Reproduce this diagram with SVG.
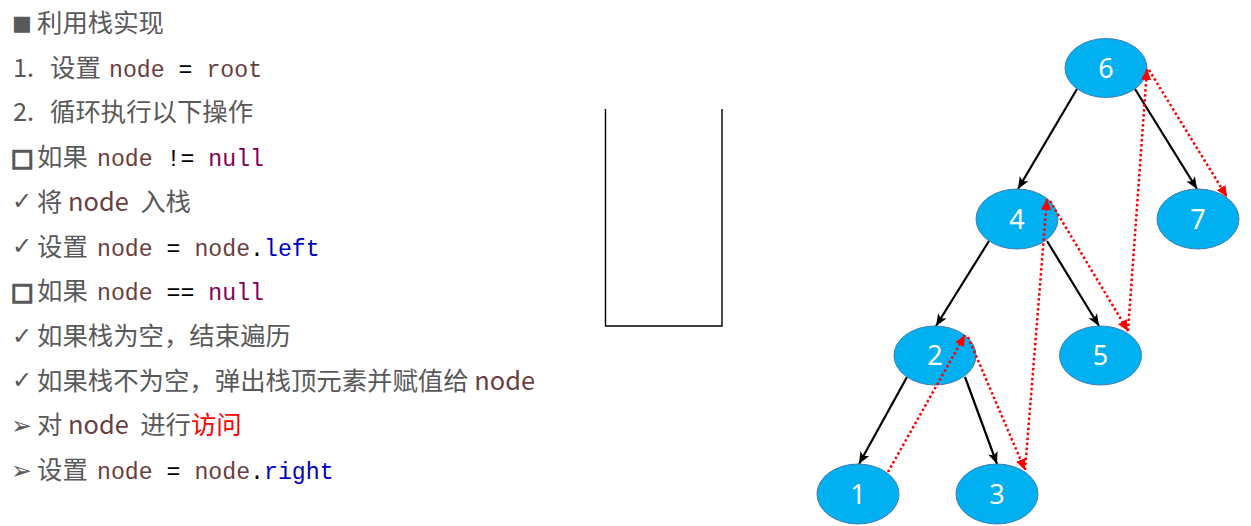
<svg xmlns="http://www.w3.org/2000/svg" width="1251" height="526" viewBox="0 0 1251 526">
<style>
.t{font-family:"Noto Sans CJK SC","Noto Sans",sans-serif;font-size:25.4px;fill:#595959}
.v{fill:#6a3e3e}
.m{font-family:"Liberation Mono","DejaVu Sans Mono",monospace;font-size:23.2px;fill:#000}
.kw{fill:#7f0055}
.f{fill:#0000c0}
.r{fill:#ff0000}
.b{font-family:"DejaVu Sans",sans-serif;fill:#595959}
.node ellipse{fill:#00b0f0;stroke:#3f7fb0;stroke-width:1}
.node text{font-family:"Noto Sans","Open Sans",sans-serif;font-size:27px;fill:#fff;text-anchor:middle}
.edge{stroke:#000;stroke-width:2.2;fill:none;marker-end:url(#ab)}
.trav{stroke:#ff0000;stroke-width:2.5;fill:none;stroke-dasharray:2.5 2.5;marker-end:url(#ar)}
</style>
<defs>
<marker id="ab" markerUnits="userSpaceOnUse" markerWidth="12" markerHeight="12" viewBox="0 0 12 12" refX="12" refY="6" orient="auto"><path d="M0,1 L12,6 L0,11 L3,6 Z" fill="#000"/></marker>
<marker id="ar" markerUnits="userSpaceOnUse" markerWidth="11" markerHeight="11" viewBox="0 0 11 11" refX="11" refY="5.5" orient="auto"><path d="M0,0.5 L11,5.5 L0,10.5 Z" fill="#ff0000"/></marker>
</defs>
<rect width="1251" height="526" fill="#fff"/>

<g id="text">
<text class="b" x="12" y="30" font-size="21">■</text>
<text class="t" x="37" y="32">利用栈实现</text>

<text class="t" x="13" y="77">1.</text>
<text class="t" x="50" y="77">设置</text>
<text class="m" x="109" y="76.7" xml:space="preserve"><tspan class="v">node</tspan> = <tspan class="v">root</tspan></text>

<text class="t" x="13" y="121.4">2.</text>
<text class="t" x="50" y="121.4">循环执行以下操作</text>

<text class="b" x="11" y="166" font-size="24" stroke="#595959" stroke-width="1.6">□</text>
<text class="t" x="37" y="166">如果</text>
<text class="m" x="97" y="166" xml:space="preserve"><tspan class="v">node</tspan> != <tspan class="kw">null</tspan></text>

<text class="b" x="12" y="209" font-size="24">✓</text>
<text class="t" x="37" y="210.8" xml:space="preserve">将 <tspan class="v">node</tspan>  入栈</text>

<text class="b" x="12" y="254" font-size="24">✓</text>
<text class="t" x="37" y="255.5">设置</text>
<text class="m" x="97" y="255.5" xml:space="preserve"><tspan class="v">node</tspan> = <tspan class="v">node</tspan>.<tspan class="f">left</tspan></text>

<text class="b" x="11" y="300.2" font-size="24" stroke="#595959" stroke-width="1.6">□</text>
<text class="t" x="37" y="300.2">如果</text>
<text class="m" x="97" y="300.2" xml:space="preserve"><tspan class="v">node</tspan> == <tspan class="kw">null</tspan></text>

<text class="b" x="12" y="343.5" font-size="24">✓</text>
<text class="t" x="37" y="345">如果栈为空，结束遍历</text>

<text class="b" x="12" y="388" font-size="24">✓</text>
<text class="t" x="37" y="389.6">如果栈不为空，弹出栈顶元素并赋值给 <tspan class="v">node</tspan></text>

<text class="b" x="11" y="434" font-size="25">➢</text>
<text class="t" x="37" y="434.3" xml:space="preserve">对 <tspan class="v">node</tspan>  进行<tspan class="r">访问</tspan></text>

<text class="b" x="11" y="479" font-size="25">➢</text>
<text class="t" x="37" y="479">设置</text>
<text class="m" x="97" y="479" xml:space="preserve"><tspan class="v">node</tspan> = <tspan class="v">node</tspan>.<tspan class="f">right</tspan></text>
</g>

<g id="stack">
<path d="M605.5,109 V326 H722 V109" fill="none" stroke="#000" stroke-width="1.4"/>
</g>

<g id="connectors">
<line class="edge" x1="1077" y1="89" x2="1018" y2="189"/>
<line class="edge" x1="1135" y1="89" x2="1197" y2="189"/>
<line class="edge" x1="989" y1="241" x2="936" y2="326"/>
<line class="edge" x1="1047" y1="241" x2="1099" y2="326"/>
<line class="edge" x1="907" y1="377" x2="859" y2="464"/>
<line class="edge" x1="965" y1="377" x2="997" y2="464"/>
</g>

<g id="n6" class="node"><ellipse cx="1106" cy="68" rx="41" ry="29.5"/><text x="1106" y="77.5">6</text></g>
<g id="n4" class="node"><ellipse cx="1017" cy="219" rx="41" ry="30"/><text x="1017" y="228.5">4</text></g>
<g id="n7" class="node"><ellipse cx="1198" cy="219" rx="41" ry="30"/><text x="1198" y="228.5">7</text></g>
<g id="n2" class="node"><ellipse cx="935" cy="355.5" rx="41" ry="29.5"/><text x="935" y="365">2</text></g>
<g id="n5" class="node"><ellipse cx="1100.5" cy="355.5" rx="41" ry="29.5"/><text x="1100.5" y="365">5</text></g>
<g id="n1" class="node"><ellipse cx="858" cy="494" rx="41" ry="30"/><text x="858" y="503.5">1</text></g>
<g id="n3" class="node"><ellipse cx="997" cy="494" rx="41" ry="30"/><text x="997" y="503.5">3</text></g>

<g id="traversal">
<line class="trav" x1="888" y1="472" x2="965" y2="335"/>
<line class="trav" x1="968" y1="337" x2="1025" y2="470"/>
<line class="trav" x1="1025" y1="470" x2="1047" y2="199"/>
<line class="trav" x1="1050" y1="201" x2="1128" y2="331"/>
<line class="trav" x1="1128" y1="331" x2="1147" y2="69"/>
<line class="trav" x1="1149" y1="70" x2="1227" y2="197"/>
</g>
</svg>
